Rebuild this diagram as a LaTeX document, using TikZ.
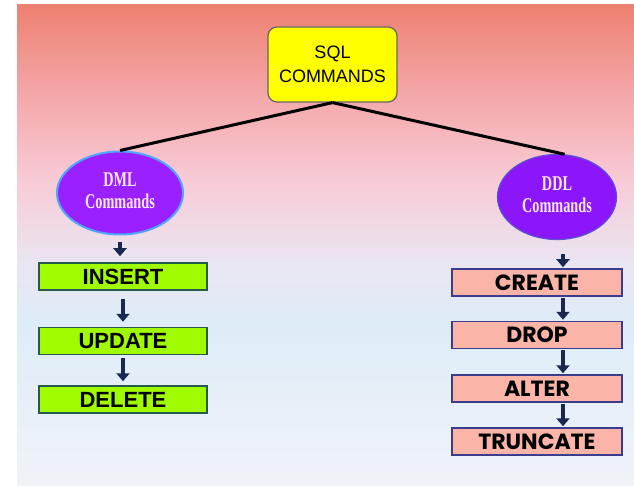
\documentclass[tikz,border=0pt]{standalone}
\usepackage{fontspec}
\usetikzlibrary{arrows.meta,shapes.geometric}
\newfontfamily\sqlfont{Liberation Sans}
\newfontfamily\ovalfont{Liberation Serif}
\newfontfamily\dmlfont{Liberation Sans}
\newfontfamily\ddlfont{Poppins}
\newcommand{\ovaltag}[1]{\scalebox{0.95}[1.4]{\begin{tabular}{@{}c@{}}#1\end{tabular}}}
\definecolor{bgA}{RGB}{238,128,112}
\definecolor{bgB}{RGB}{243,162,162}
\definecolor{bgC}{RGB}{248,202,213}
\definecolor{bgD}{RGB}{233,230,242}
\definecolor{bgE}{RGB}{222,236,248}
\definecolor{bgF}{RGB}{240,243,248}
\definecolor{sqlyellow}{RGB}{255,255,0}
\definecolor{sqlgray}{RGB}{105,100,100}
\definecolor{dmlfill}{RGB}{155,32,255}
\definecolor{dmlrim}{RGB}{80,165,255}
\definecolor{ddlfill}{RGB}{140,22,250}
\definecolor{ddlrim}{RGB}{90,80,210}
\definecolor{ovaltext}{RGB}{255,232,245}
\definecolor{dmlgreen}{RGB}{160,250,0}
\definecolor{dmlline}{RGB}{40,90,75}
\definecolor{ddlpink}{RGB}{250,180,168}
\definecolor{ddlline}{RGB}{60,60,140}
\definecolor{arrownavy}{RGB}{25,40,80}
\pgfdeclareverticalshading{bgfade}{100bp}{color(0bp)=(bgF); color(25bp)=(bgF); color(42bp)=(bgE); color(48bp)=(bgD); color(57bp)=(bgC); color(67bp)=(bgB); color(75bp)=(bgA); color(100bp)=(bgA)}

\begin{document}
\begin{tikzpicture}[x=1pt,y=-1pt]
\tikzstyle{every node}+=[inner sep=0pt]
\tikzstyle{topbox}=[draw=sqlgray, line width=1.2pt, fill=sqlyellow, rounded corners=9pt, minimum width=129pt, minimum height=75pt, align=center, font=\sqlfont\fontsize{18}{24}\selectfont]
\tikzstyle{oval}=[ellipse, text=ovaltext, font=\ovalfont\bfseries\fontsize{15}{15.5}\selectfont]
\tikzstyle{dmlbox}=[draw=dmlline, line width=1.5pt, fill=dmlgreen, minimum width=168pt, minimum height=27pt, font=\dmlfont\bfseries\fontsize{22}{22}\selectfont]
\tikzstyle{ddlbox}=[draw=ddlline, line width=1.5pt, fill=ddlpink, minimum width=170pt, minimum height=27pt, font=\ddlfont\bfseries\fontsize{22}{22}\selectfont]
\tikzstyle{down}=[-{Triangle[width=13pt,length=8pt]}, line width=4pt, draw=arrownavy]
\tikzstyle{branch}=[line width=3pt, black]
\useasboundingbox (0,0) rectangle (634,486);
\fill [white] (0,0) rectangle (634,486);
\shade [shading=bgfade] (17,5) rectangle (634,486);
% top
\node [topbox] (sql) at (332.5,64.5) {SQL\\COMMANDS};
% ovals
\node [oval, fill=dmlfill, draw=dmlrim, line width=2pt, minimum width=126pt, minimum height=83pt] (dml) at (120,193) {\ovaltag{DML\\Commands}};
\node [oval, fill=ddlfill, draw=ddlrim, line width=1.2pt, minimum width=119pt, minimum height=85pt] (ddl) at (557,197) {\ovaltag{DDL\\Commands}};
\draw [branch] (sql.south) -- (dml.north);
\draw [branch] (sql.south) -- (ddl.80);
% DML column
\node [dmlbox] (insert) at (123,276.5) {INSERT};
\node [dmlbox] (update) at (123,341) {UPDATE};
\node [dmlbox] (delete) at (123,399.5) {DELETE};
\draw [down, shorten <=7pt, shorten >=6pt] (dml.south) -- (dml.south |- insert.north);
\draw [down, shorten <=8pt, shorten >=5pt] (insert) -- (update);
\draw [down, shorten <=3pt, shorten >=4pt] (update) -- (delete);
% DDL column
\coordinate (ddlaxis) at (563,0);
\node [ddlbox] (create) at (537,282.5) {CREATE};
\node [ddlbox] (drop) at (537,335) {DROP};
\node [ddlbox] (alter) at (537,388.5) {ALTER};
\node [ddlbox] (truncate) at (537,441.5) {TRUNCATE};
\draw [down, shorten <=14pt, shorten >=1pt] (ddl.south -| ddlaxis) -- (create.north -| ddlaxis);
\draw [down, shorten <=1pt, shorten >=1pt] (create.south -| ddlaxis) -- (drop.north -| ddlaxis);
\draw [down, shorten <=1pt, shorten >=1pt] (drop.south -| ddlaxis) -- (alter.north -| ddlaxis);
\draw [down, shorten <=1pt, shorten >=1pt] (alter.south -| ddlaxis) -- (truncate.north -| ddlaxis);
\end{tikzpicture}
\end{document}
